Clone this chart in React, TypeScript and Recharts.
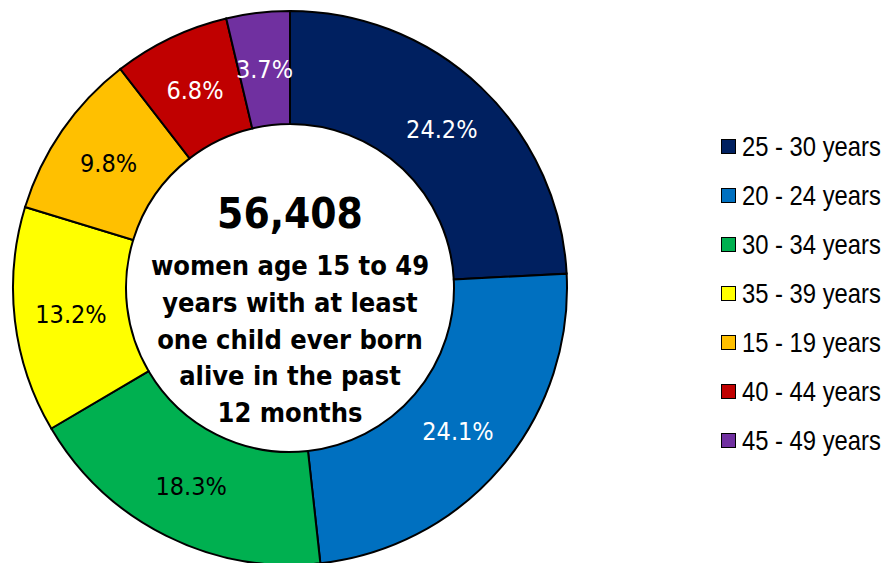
import { PieChart, Pie, Cell, Label } from "recharts";

const ageGroups = [
  "25 - 30 years",
  "20 - 24 years",
  "30 - 34 years",
  "35 - 39 years",
  "15 - 19 years",
  "40 - 44 years",
  "45 - 49 years",
];
const shares = [24.2, 24.1, 18.3, 13.2, 9.8, 6.8, 3.7];
const sliceColors = [
  "#002060",
  "#0070C0",
  "#00B050",
  "#FFFF00",
  "#FFC000",
  "#C00000",
  "#7030A0",
];
const labelColors = ["#fff", "#fff", "#000", "#000", "#000", "#fff", "#fff"];
const totalText = "56,408";
const centerLines = [
  "women age 15 to 49",
  "years with at least",
  "one child ever born",
  "alive in the past",
  "12 months",
];

const data = ageGroups.map((name, i) => ({ name, value: shares[i] }));

const CX = 290;
const CY = 288;
const dinFont = "'DejaVu Sans Condensed', 'DejaVu Sans', sans-serif";
const RAD = Math.PI / 180;

const renderSliceLabel = (props: any) => {
  const { cx, cy, midAngle, innerRadius, outerRadius, index, value } = props;
  const r = (innerRadius + outerRadius) / 2;
  const x = cx + r * Math.cos(-midAngle * RAD);
  const y = cy + r * Math.sin(-midAngle * RAD);
  return (
    <text
      x={x}
      y={y + 1}
      fill={labelColors[index]}
      textAnchor="middle"
      dominantBaseline="central"
      fontFamily={dinFont}
      style={{ fontStretch: "condensed" }}
      fontSize={25}
    >
      {value.toFixed(1)}%
    </text>
  );
};

const CenterText = () => (
  <g fontFamily={dinFont} textAnchor="middle" fill="#000" style={{ fontStretch: "condensed" }}>
    <text x={CX} y={CY - 60} fontSize={42} fontWeight="bold">
      {totalText}
    </text>
    {centerLines.map((line, i) => (
      <text key={line} x={CX} y={CY - 13 + i * 36.8} fontSize={27} fontWeight="bold">
        {line}
      </text>
    ))}
  </g>
);

const AgeLegend = () => (
  <div
    style={{
      position: "absolute",
      left: 721,
      top: 122,
      fontFamily: "'Liberation Sans Narrow', 'Liberation Sans', Arial, sans-serif",
    }}
  >
    {ageGroups.map((name, i) => (
      <div
        key={name}
        style={{ display: "flex", alignItems: "center", height: 49, whiteSpace: "nowrap" }}
      >
        <span
          style={{
            width: 13,
            height: 13,
            background: sliceColors[i],
            border: "1.5px solid #000",
            marginRight: 6,
            display: "inline-block",
            flexShrink: 0,
          }}
        />
        <span
          style={{
            fontSize: 28,
            color: "#000",
            display: "inline-block",
            transform: "scaleX(0.85)",
            transformOrigin: "left center",
          }}
        >
          {name}
        </span>
      </div>
    ))}
  </div>
);

export default function App() {
  return (
    <div style={{ position: "absolute", left: 0, top: 0, width: 887, height: 563, background: "#fff" }}>
      <PieChart width={887} height={563} margin={{ top: 0, right: 0, bottom: 0, left: 0 }}>
        <Pie
          data={data}
          dataKey="value"
          nameKey="name"
          cx={CX}
          cy={CY}
          innerRadius={164}
          outerRadius={277}
          startAngle={90}
          endAngle={-270}
          stroke="#000"
          strokeWidth={2}
          label={renderSliceLabel}
          labelLine={false}
          isAnimationActive={false}
        >
          {data.map((d, i) => (
            <Cell key={d.name} fill={sliceColors[i]} />
          ))}
          <Label position="center" content={<CenterText />} />
        </Pie>
      </PieChart>
      <AgeLegend />
    </div>
  );
}
